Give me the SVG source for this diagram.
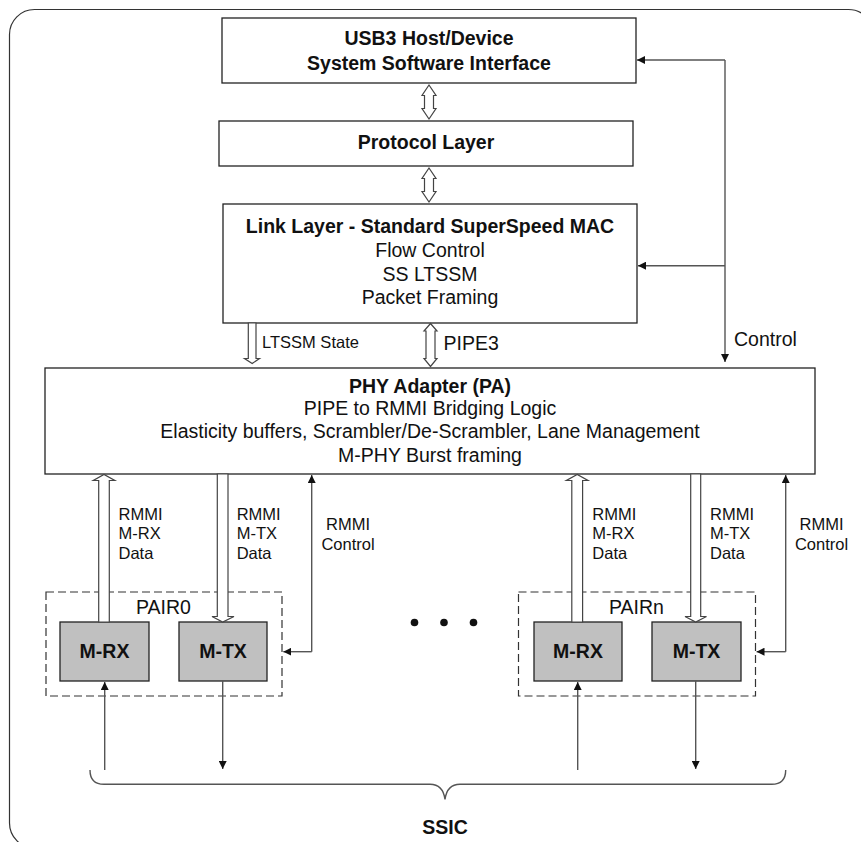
<svg xmlns="http://www.w3.org/2000/svg" width="861" height="842" viewBox="0 0 861 842">
  <style>
    .box { fill: #ffffff; stroke: #222222; stroke-width: 1.3; }
    .blk { fill: #c0c0c0; stroke: #222222; stroke-width: 1.3; }
    .pair { fill: none; stroke: #333333; stroke-width: 1.2; stroke-dasharray: 8 4; }
    .frame { fill: none; stroke: #333333; stroke-width: 1.2; }
    .wire { fill: none; stroke: #555555; stroke-width: 1.4; }
    .bus { fill: #ffffff; stroke: #444444; stroke-width: 1.2; stroke-linejoin: miter; }
    text { font-family: "Liberation Sans", Arial, Helvetica, sans-serif; fill: #111111; }
    .t { font-size: 19.5px; }
    .b { font-size: 19.5px; font-weight: bold; }
    .s { font-size: 16.5px; }
    .c { text-anchor: middle; }
  </style>
  <defs>
    <marker id="head" viewBox="0 0 10 10" refX="10" refY="5" markerWidth="8" markerHeight="8" markerUnits="userSpaceOnUse" orient="auto">
      <path d="M0,0 L10,5 L0,10 z" fill="#111111"/>
    </marker>
  </defs>

  <!-- outer rounded frame (runs past the right and bottom edges) -->
  <rect class="frame" x="9.5" y="9.5" width="864" height="838.5" rx="25" ry="25"/>

  <g id="usb3-interface">
    <rect class="box" x="222" y="18" width="414" height="65"/>
    <text class="b c" x="429" y="45">USB3 Host/Device</text>
    <text class="b c" x="429" y="69.5">System Software Interface</text>
  </g>

  <g id="protocol-layer">
    <rect class="box" x="219" y="121" width="414" height="45"/>
    <text class="b c" x="426" y="149">Protocol Layer</text>
  </g>

  <g id="link-layer">
    <rect class="box" x="223" y="204" width="414" height="119"/>
    <text class="b c" x="430" y="233">Link Layer - Standard SuperSpeed MAC</text>
    <text class="t c" x="430" y="257">Flow Control</text>
    <text class="t c" x="430" y="280.5">SS LTSSM</text>
    <text class="t c" x="430" y="304">Packet Framing</text>
  </g>

  <g id="phy-adapter">
    <rect class="box" x="45" y="368" width="770" height="106"/>
    <text class="b c" x="430" y="392.5">PHY Adapter (PA)</text>
    <text class="t c" x="430" y="414.5">PIPE to RMMI Bridging Logic</text>
    <text class="t c" x="430" y="438">Elasticity buffers, Scrambler/De-Scrambler, Lane Management</text>
    <text class="t c" x="430" y="462">M-PHY Burst framing</text>
  </g>

  <g id="pair0">
    <rect class="pair" x="46" y="592" width="236" height="104"/>
    <text class="t c" x="163.5" y="614">PAIR0</text>
  </g>
  <g id="pair0-mrx">
    <rect class="blk" x="60" y="622" width="89" height="59"/>
    <text class="b c" x="104.5" y="658">M-RX</text>
  </g>
  <g id="pair0-mtx">
    <rect class="blk" x="179" y="622" width="88" height="59"/>
    <text class="b c" x="223" y="658">M-TX</text>
  </g>

  <g id="pairn">
    <rect class="pair" x="518.5" y="592" width="237" height="104"/>
    <text class="t c" x="636.5" y="614">PAIRn</text>
  </g>
  <g id="pairn-mrx">
    <rect class="blk" x="534" y="622" width="88" height="59"/>
    <text class="b c" x="578" y="658">M-RX</text>
  </g>
  <g id="pairn-mtx">
    <rect class="blk" x="652" y="622" width="89" height="59"/>
    <text class="b c" x="696.5" y="658">M-TX</text>
  </g>

  <g id="ellipsis">
    <circle cx="414.5" cy="622.5" r="3.8" fill="#111111"/>
    <circle cx="444" cy="622.5" r="3.8" fill="#111111"/>
    <circle cx="473.5" cy="622.5" r="3.8" fill="#111111"/>
  </g>

  <g id="ssic">
    <path class="wire" d="M90,770 Q90,784.3 104,784.3 L430,784.3 Q443,784.3 445,799.5 Q447,784.3 460,784.3 L771.7,784.3 Q785.7,784.3 785.7,770"/>
    <text class="b c" x="445" y="834">SSIC</text>
  </g>

  <g id="connectors">
    <!-- bidirectional buses between the stacked layers -->
    <polygon class="bus" points="429,85 436,95.5 433.5,95.5 433.5,108.5 436,108.5 429,119 422,108.5 424.5,108.5 424.5,95.5 422,95.5"/>
    <polygon class="bus" points="429,168 436,178.5 433.5,178.5 433.5,191.5 436,191.5 429,202 422,191.5 424.5,191.5 424.5,178.5 422,178.5"/>
    <polygon class="bus" points="430.5,323.5 437,331 435,331 435,358.5 437,358.5 430.5,366.5 424,358.5 426,358.5 426,331 424,331"/>
    <text class="t" x="443.5" y="350">PIPE3</text>

    <!-- LTSSM state, link layer to PHY adapter -->
    <polygon class="bus" points="248.3,323 256,323 256,358.5 259.5,358.5 252.2,363.5 244.5,358.5 248.3,358.5"/>
    <text class="s" x="262" y="347.5">LTSSM State</text>

    <!-- system control -->
    <polyline class="wire" points="725,60 725,362" marker-end="url(#head)"/>
    <line class="wire" x1="725" y1="60" x2="637" y2="60" marker-end="url(#head)"/>
    <line class="wire" x1="725" y1="265.7" x2="638" y2="265.7" marker-end="url(#head)"/>
    <text class="t" x="734" y="346">Control</text>

    <!-- PAIR0 data buses -->
    <polygon class="bus" points="98.7,622 98.7,480.5 93.3,480.5 104,474.5 114.8,480.5 109.3,480.5 109.3,622"/>
    <polygon class="bus" points="217.3,474 228,474 228,616.5 234,616.5 222.7,622 212,616.5 217.3,616.5"/>
    <text class="s"><tspan x="118.5" y="520">RMMI</tspan><tspan x="118.5" y="539.3">M-RX</tspan><tspan x="118.5" y="558.5">Data</tspan></text>
    <text class="s"><tspan x="236.7" y="520">RMMI</tspan><tspan x="236.7" y="539.3">M-TX</tspan><tspan x="236.7" y="558.5">Data</tspan></text>

    <!-- PAIR0 control -->
    <polyline class="wire" points="311.7,651.7 311.7,475" marker-end="url(#head)"/>
    <line class="wire" x1="311.7" y1="651.7" x2="283.3" y2="651.7" marker-end="url(#head)"/>
    <text class="s c"><tspan x="348" y="530">RMMI</tspan><tspan x="348" y="550">Control</tspan></text>

    <!-- PAIRn data buses -->
    <polygon class="bus" points="571.8,622 571.8,480.5 566.4,480.5 577.2,474.5 588,480.5 582.6,480.5 582.6,622"/>
    <polygon class="bus" points="690.7,474 700.7,474 700.7,616.5 706.5,616.5 695.7,622 685,616.5 690.7,616.5"/>
    <text class="s"><tspan x="592.3" y="520">RMMI</tspan><tspan x="592.3" y="539.3">M-RX</tspan><tspan x="592.3" y="558.5">Data</tspan></text>
    <text class="s"><tspan x="710" y="520">RMMI</tspan><tspan x="710" y="539.3">M-TX</tspan><tspan x="710" y="558.5">Data</tspan></text>

    <!-- PAIRn control -->
    <polyline class="wire" points="785.7,651.7 785.7,475" marker-end="url(#head)"/>
    <line class="wire" x1="785.7" y1="651.7" x2="756.5" y2="651.7" marker-end="url(#head)"/>
    <text class="s c"><tspan x="821.5" y="530">RMMI</tspan><tspan x="821.5" y="550">Control</tspan></text>

    <!-- serial lanes -->
    <line class="wire" x1="104.7" y1="770" x2="104.7" y2="682" marker-end="url(#head)"/>
    <line class="wire" x1="222.7" y1="681" x2="222.7" y2="769" marker-end="url(#head)"/>
    <line class="wire" x1="577.7" y1="770" x2="577.7" y2="682" marker-end="url(#head)"/>
    <line class="wire" x1="695.7" y1="681" x2="695.7" y2="769" marker-end="url(#head)"/>
  </g>
</svg>
